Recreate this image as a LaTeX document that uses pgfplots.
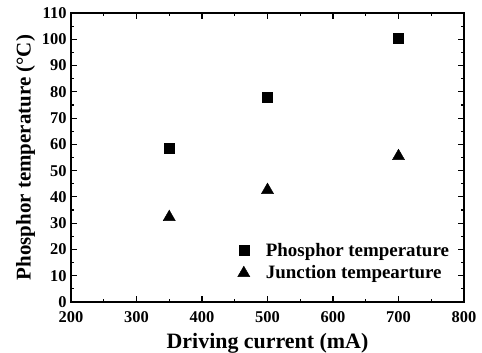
\documentclass[border=0pt]{standalone}
\usepackage{fontspec}
\setmainfont{Liberation Serif}
\usepackage{pgfplots}
\pgfplotsset{compat=1.18}
\begin{document}
\begin{tikzpicture}
\begin{axis}[
  scale only axis,
  width=393bp, height=289bp,
  xmin=200, xmax=800, ymin=0, ymax=110,
  xtick={200,300,...,800},
  ytick={0,10,...,110},
  minor x tick num=1,
  minor y tick num=1,
  tick align=inside,
  major tick length=6bp,
  minor tick length=3.5bp,
  axis line style={line width=1.3bp},
  every tick/.style={black, line width=1.1bp},
  /pgf/number format/assume math mode=true,
  ticklabel style={font=\fontsize{16.5}{18}\selectfont\bfseries},
  xticklabel style={yshift=-6bp},
  yticklabel style={xshift=-1bp},
  xlabel={Driving current (mA)},
  ylabel={Phosphor temperature (\textdegree C)},
  xlabel style={font=\fontsize{22}{24}\selectfont\bfseries, yshift=-4bp},
  ylabel style={font=\fontsize{21}{23}\selectfont\bfseries, yshift=0bp},
  legend style={draw=none, fill=none, at={(0.975,0.06)}, anchor=south east,
    font=\fontsize{19}{21}\selectfont\bfseries, row sep=4bp,
    /tikz/every odd column/.style={column sep=14bp}},
  legend cell align=left,
]
\addplot[only marks, mark=square*, mark size=5bp, black] coordinates {(350,58.5) (500,78) (700,100.5)};
\addlegendentry{Phosphor temperature}
\addplot[only marks, mark=triangle*, mark size=7bp, black] coordinates {(350,32.3) (500,42.6) (700,55.5)};
\addlegendentry{Junction tempearture}
\coordinate (O) at (rel axis cs:0,0);
\end{axis}
\pgfresetboundingbox
\path[use as bounding box] (O)+(-71bp,-51bp) rectangle +(411bp,302bp);
\end{tikzpicture}
\end{document}
